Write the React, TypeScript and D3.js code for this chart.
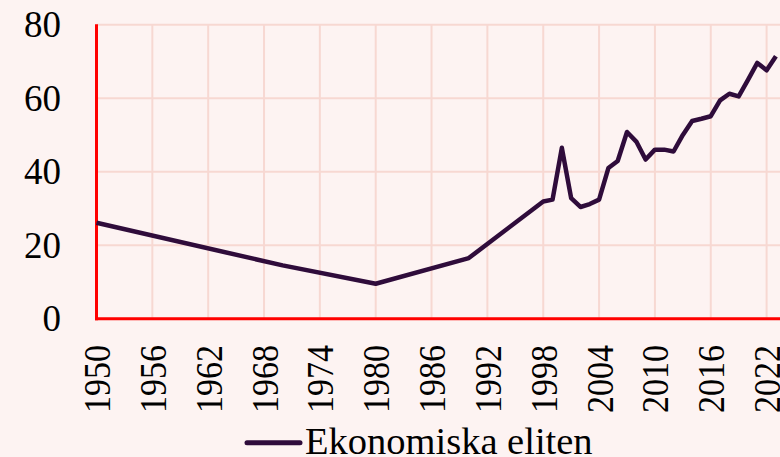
import React from "react";
import * as d3 from "d3";

const years = [1950, 1970, 1980, 1990, 1998, 1999, 2000, 2001, 2002, 2003, 2004, 2005, 2006, 2007, 2008, 2009, 2010, 2011, 2012, 2013, 2014, 2015, 2016, 2017, 2018, 2019, 2020, 2021, 2022, 2023];
const values = [26.1, 14.5, 9.5, 16.5, 31.9, 32.4, 46.5, 32.8, 30.4, 31.2, 32.4, 41.0, 42.9, 50.8, 48.2, 43.3, 46.0, 46.0, 45.5, 50.0, 53.8, 54.4, 55.1, 59.4, 61.2, 60.5, 65.0, 69.6, 67.6, 71.4];
const xTicks = [1950, 1956, 1962, 1968, 1974, 1980, 1986, 1992, 1998, 2004, 2010, 2016, 2022];
const yTicks = [0, 20, 40, 60, 80];
const seriesName = "Ekonomiska eliten";

const W = 780;
const H = 457;
const FONT = "'Liberation Serif', 'Times New Roman', serif";
const LINE = "#2f0c3b";
const GRID = "#f7d8d2";
const BG = "#fdf3f2";

export default function App() {
  const x = d3.scaleLinear().domain([1950, 2022]).range([96.5, 766.6]);
  const y = d3.scaleLinear().domain([0, 80]).range([318.7, 24.7]);
  const data = years.map((yr, i) => ({ yr, v: values[i] }));
  const line = d3
    .line<{ yr: number; v: number }>()
    .x((d) => x(d.yr))
    .y((d) => y(d.v));
  const right = W;

  return (
    <svg
      width={W}
      height={H}
      style={{ position: "absolute", left: 0, top: 0, display: "block" }}
      fontFamily={FONT}
    >
      <rect x={0} y={0} width={W} height={H} fill={BG} />
      {yTicks.map((t) => (
        <line key={"gy" + t} x1={x(1950)} x2={right} y1={y(t)} y2={y(t)} stroke={GRID} strokeWidth={2} />
      ))}
      {xTicks.map((t) => (
        <line key={"gx" + t} x1={x(t)} x2={x(t)} y1={y(80)} y2={y(0)} stroke={GRID} strokeWidth={2} />
      ))}
      <line x1={x(1950)} x2={x(1950)} y1={y(80) - 0.5} y2={y(0) + 1.5} stroke="#ff0000" strokeWidth={3} />
      <line x1={x(1950) - 1.5} x2={right} y1={y(0)} y2={y(0)} stroke="#ff0000" strokeWidth={3} />
      <path d={line(data) || ""} fill="none" stroke={LINE} strokeWidth={4.5} strokeLinejoin="round" strokeLinecap="butt" />
      {yTicks.map((t) => (
        <text key={"ly" + t} x={61} y={y(t)} textAnchor="end" dominantBaseline="central" fontSize={37} fill="#000">
          {t}
        </text>
      ))}
      {xTicks.map((t) => (
        <text
          key={"lx" + t}
          transform={`translate(${x(t) + 1},345) rotate(-90)`}
          textAnchor="end"
          dominantBaseline="central"
          fontSize={37}
          textLength={68}
          lengthAdjust="spacingAndGlyphs"
          fill="#000"
        >
          {t}
        </text>
      ))}
      <line x1={247} x2={300} y1={442.7} y2={442.7} stroke={LINE} strokeWidth={5} strokeLinecap="round" />
      <text x={305} y={454} fontSize={38.5} fill="#000">
        {seriesName}
      </text>
    </svg>
  );
}
